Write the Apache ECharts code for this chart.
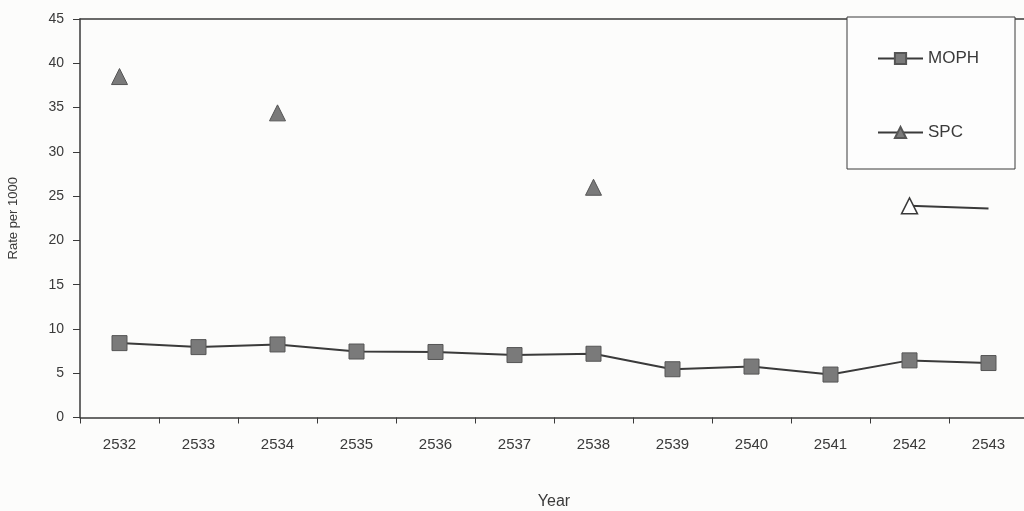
<!DOCTYPE html>
<html>
<head>
<meta charset="utf-8">
<script src="https://cdn.jsdelivr.net/npm/echarts@6/dist/echarts.min.js"></script>
<style>
  html, body { margin: 0; padding: 0; background: #fcfcfb; }
  #chart { width: 1024px; height: 511px; }
</style>
</head>
<body>
<div id="chart"></div>
<script>
// Years (Buddhist era) on the category axis
const years = ['2532', '2533', '2534', '2535', '2536', '2537', '2538', '2539', '2540', '2541', '2542', '2543'];
// Rate per 1000, Ministry of Public Health reports
const mophRates = [8.4, 7.95, 8.25, 7.45, 7.4, 7.05, 7.2, 5.45, 5.75, 4.85, 6.45, 6.15];
// Rate per 1000, SPC survey (only some years available)
const spcRates = [38.5, null, 34.4, null, null, null, 26.0, null, null, null, 23.9, 23.6];
const yTicks = { min: 0, max: 45, interval: 5 };

const ink = '#3a3a3a';
const markFill = '#7a7a7a';

const spcData = spcRates.map((v, i) => {
  if (v === null) return null;
  if (i === 10) return { value: v, itemStyle: { color: '#ffffff', borderColor: ink, borderWidth: 1.5 } };
  if (i === 11) return { value: v, symbol: 'none' };
  return v;
});

const chart = echarts.init(document.getElementById('chart'));
chart.setOption({
  animation: false,
  backgroundColor: '#fcfcfb',
  textStyle: { fontFamily: 'Liberation Sans, Arial, sans-serif', color: ink },
  grid: { left: 80, top: 19, right: -4, bottom: 93.5, outerBoundsMode: 'none', containLabel: false },
  legend: {
    orient: 'vertical',
    left: 847,
    top: 17,
    padding: [33, 36, 28, 30],
    itemGap: 57,
    itemWidth: 45,
    itemHeight: 14,
    borderColor: ink,
    borderWidth: 1,
    backgroundColor: '#fdfdfd',
    textStyle: { fontSize: 17, color: ink, fontFamily: 'Liberation Sans, Arial, sans-serif' },
    data: ['MOPH', 'SPC']
  },
  xAxis: [
    {
      type: 'category',
      data: years,
      boundaryGap: true,
      name: 'Year',
      nameLocation: 'middle',
      nameGap: 76,
      nameTextStyle: { fontSize: 16, color: ink },
      axisLine: { lineStyle: { color: ink, width: 1.5 } },
      axisTick: { show: true, length: 6, inside: false, lineStyle: { color: ink } },
      axisLabel: { fontSize: 15, color: ink, margin: 20 },
      splitLine: { show: false }
    },
    {
      type: 'category',
      data: years,
      position: 'top',
      axisLine: { lineStyle: { color: ink, width: 1.5 } },
      axisTick: { show: false },
      axisLabel: { show: false },
      splitLine: { show: false }
    }
  ],
  yAxis: {
    type: 'value',
    min: yTicks.min,
    max: yTicks.max,
    interval: yTicks.interval,
    name: 'Rate per 1000',
    nameLocation: 'middle',
    nameGap: 60,
    nameTextStyle: { fontSize: 13, color: ink },
    axisLine: { show: true, lineStyle: { color: ink, width: 1.5 } },
    axisTick: { show: true, length: 7, lineStyle: { color: ink } },
    axisLabel: { fontSize: 14, color: ink, margin: 16 },
    splitLine: { show: false }
  },
  series: [
    {
      name: 'MOPH',
      type: 'line',
      data: mophRates,
      symbol: 'rect',
      symbolSize: 15,
      lineStyle: { color: ink, width: 2 },
      itemStyle: { color: markFill, borderColor: '#555', borderWidth: 1 }
    },
    {
      name: 'SPC',
      type: 'line',
      data: spcData,
      connectNulls: false,
      symbol: 'triangle',
      symbolSize: 16,
      showAllSymbol: true,
      lineStyle: { color: ink, width: 2 },
      itemStyle: { color: markFill, borderColor: '#555', borderWidth: 1 }
    }
  ]
});
</script>
</body>
</html>
